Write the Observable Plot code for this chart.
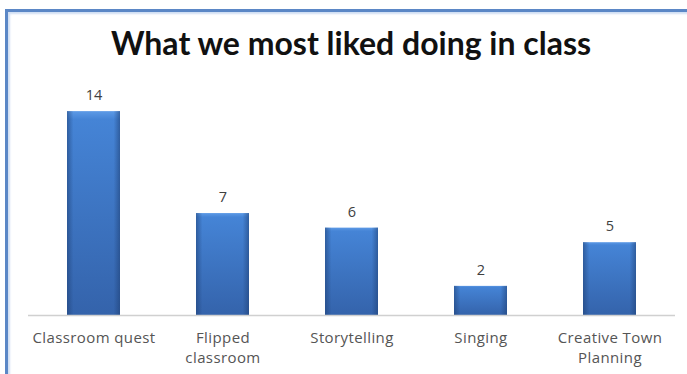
<!DOCTYPE html>
<html>
<head>
<meta charset="utf-8">
<script src="https://cdn.jsdelivr.net/npm/d3@7"></script>
<script src="https://cdn.jsdelivr.net/npm/@observablehq/plot@0.6"></script>
<style>
  html, body { margin: 0; padding: 0; background: #fff; }
  #wrap { position: relative; width: 687px; height: 374px; overflow: hidden; }
  #frame { position: absolute; left: 5px; top: 9px; width: 700px; height: 400px;
           border-left: 3px solid #5b87c6; border-top: 3px solid #5b87c6;
           box-shadow: inset 2px 2px 2px rgba(120,160,220,0.35); }
  #title { position: absolute; left: 0; width: 702px; top: 23px; text-align: center;
           font-family: Lato, "Open Sans", sans-serif; font-weight: bold; font-size: 32px; color: #111; }
  #chart { position: absolute; left: 0; top: 0; }
</style>
</head>
<body>
<div id="wrap">
  <div id="frame"></div>
  <div id="chart"></div>
  <div id="title">What we most liked doing in class</div>
</div>
<script>
const categories = ["Classroom quest", "Flipped\nclassroom", "Storytelling", "Singing", "Creative Town\nPlanning"];
const values = [14, 7, 6, 2, 5];
const data = categories.map((c, i) => ({category: c, value: values[i]}));

const defs = () => {
  const s = d3.create("svg:defs");
  const v = s.append("linearGradient").attr("id", "gv").attr("x1", 0).attr("x2", 0).attr("y1", 0).attr("y2", 1);
  v.append("stop").attr("offset", "0%").attr("stop-color", "#5d9ae6");
  v.append("stop").attr("offset", "4%").attr("stop-color", "#4584d6");
  v.append("stop").attr("offset", "100%").attr("stop-color", "#3463ab");
  const h = s.append("linearGradient").attr("id", "gh").attr("x1", 0).attr("x2", 1).attr("y1", 0).attr("y2", 0);
  h.append("stop").attr("offset", "0%").attr("stop-color", "#1e3f73").attr("stop-opacity", 0.55);
  h.append("stop").attr("offset", "12%").attr("stop-color", "#1e3f73").attr("stop-opacity", 0);
  h.append("stop").attr("offset", "88%").attr("stop-color", "#1e3f73").attr("stop-opacity", 0);
  h.append("stop").attr("offset", "100%").attr("stop-color", "#1e3f73").attr("stop-opacity", 0.55);
  return s.node();
};

const chart = Plot.plot({
  width: 687,
  height: 374,
  marginLeft: 28,
  marginRight: 12,
  marginTop: 82,
  marginBottom: 59,
  style: {fontFamily: "'Open Sans', Lato, sans-serif", background: "transparent"},
  x: {domain: categories, paddingInner: 0.59, paddingOuter: 0.295, label: null, tickSize: 0, tickPadding: 14},
  y: {domain: [0, 16], axis: null},
  marks: [
    defs,
    Plot.barY(data, {x: "category", y: "value", fill: "url(#gv)"}),
    Plot.barY(data, {x: "category", y: "value", fill: "url(#gh)"}),
    Plot.ruleY([0], {stroke: "#d0d0d0", strokeWidth: 1.5}),
    Plot.text(data, {x: "category", y: "value", text: d => String(d.value), dy: -16, fontSize: 14.5, fill: "#404040"}),
    Plot.axisX({tickSize: 0, tickPadding: 14, fontSize: 15, color: "#555", lineHeight: 1.3})
  ]
});
chart.querySelectorAll("g[aria-label='x-axis tick label'] text").forEach(t => t.setAttribute("letter-spacing", "0.4"));
document.getElementById("chart").appendChild(chart);
</script>
</body>
</html>
